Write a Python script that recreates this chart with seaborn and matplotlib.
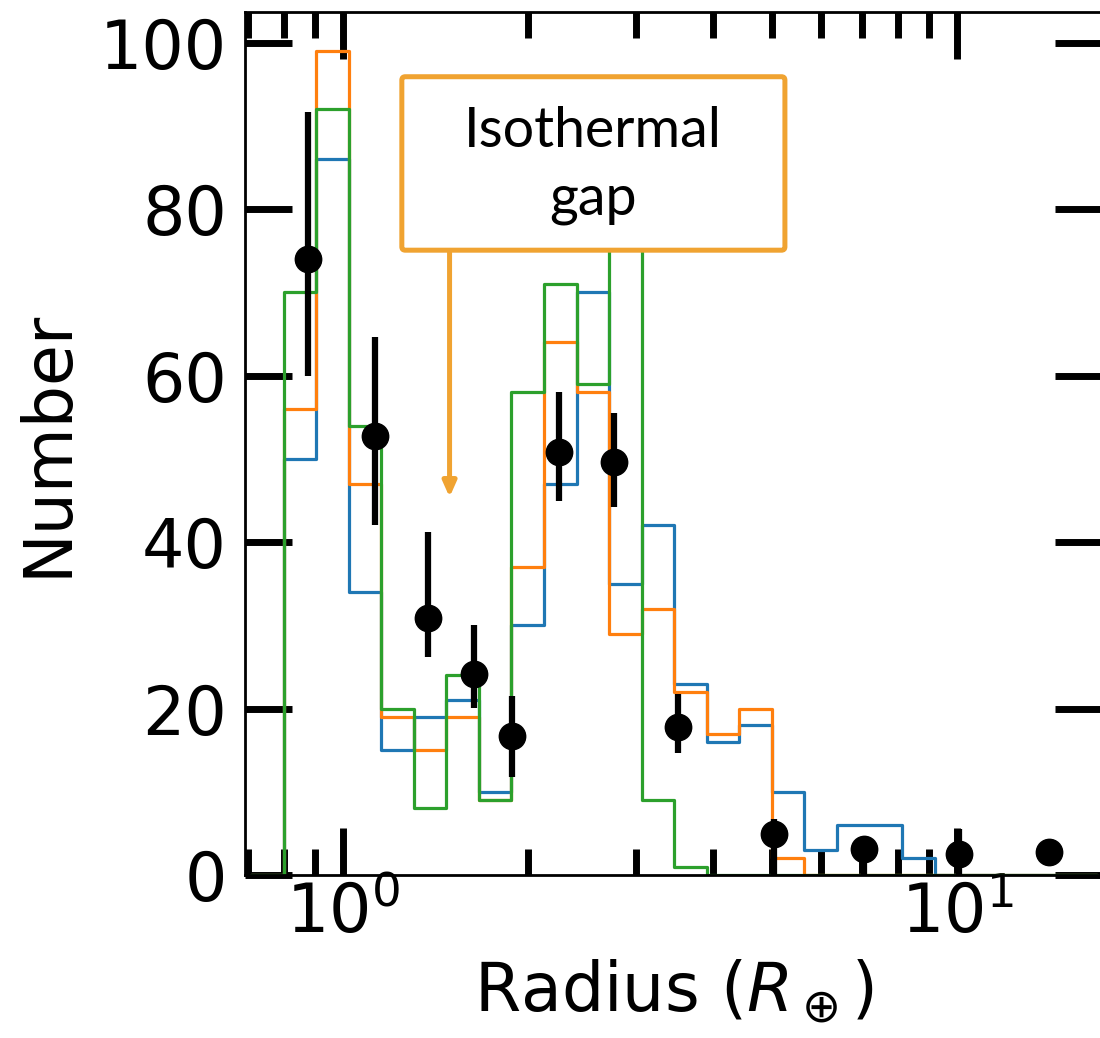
import numpy as np
import pandas as pd
import matplotlib
matplotlib.use("Agg")
import matplotlib.pyplot as plt
import seaborn as sns
from matplotlib.patches import FancyBboxPatch
from matplotlib.ticker import LogLocator, NullFormatter

# ---------------- data ----------------
bin_start = 0.708        # first bin edge (R_earth); first bin is empty
bin_dex = 0.053          # log10 bin width
n_bins = 26

counts_blue = [0, 50, 86, 34, 15, 19, 21, 10, 30, 47, 70, 35, 42, 23, 16, 18, 10, 3, 6, 6, 2, 0, 0, 0, 0, 0]
counts_orange = [0, 56, 99, 47, 19, 15, 19, 9, 37, 64, 58, 29, 32, 22, 17, 20, 2, 0, 0, 0, 0, 0, 0, 0, 0, 0]
counts_green = [0, 70, 92, 54, 20, 8, 24, 9, 58, 71, 59, 88, 9, 1, 0, 0, 0, 0, 0, 0, 0, 0, 0, 0, 0, 0]

obs_radius = [0.877, 1.128, 1.372, 1.631, 1.882, 2.25, 2.76, 3.51, 5.02, 7.05, 10.07, 14.1]
obs_number = [74.0, 52.7, 30.9, 24.2, 16.7, 50.8, 49.6, 17.8, 4.9, 3.1, 2.5, 2.8]
obs_err_hi = [17.7, 11.9, 10.3, 5.8, 4.8, 7.2, 5.9, 4.0, 1.8, 1.0, 3.0, 0.0]
obs_err_lo = [14.0, 10.7, 4.7, 4.1, 4.9, 5.9, 5.4, 3.1, 4.9, 3.1, 2.5, 0.0]

y_ticks = [0, 20, 40, 60, 80, 100]
annot_text = "Isothermal\ngap"

# ---------------- setup ----------------
sns.set_style("ticks")
plt.rcParams["font.family"] = ["DejaVu Sans"]
plt.rcParams["mathtext.fontset"] = "dejavusans"
plt.rcParams["text.color"] = "black"
plt.rcParams["axes.labelcolor"] = "black"
plt.rcParams["xtick.color"] = "black"
plt.rcParams["ytick.color"] = "black"
plt.rcParams["xtick.labelcolor"] = "black"
plt.rcParams["ytick.labelcolor"] = "black"

log_edges = np.log10(bin_start) + bin_dex * np.arange(n_bins + 1)
log_centers = 0.5 * (log_edges[:-1] + log_edges[1:])
centers = 10 ** log_centers

df = pd.DataFrame({
    "radius": np.tile(centers, 3),
    "count": counts_blue + counts_orange + counts_green,
    "model": ["blue"] * n_bins + ["orange"] * n_bins + ["green"] * n_bins,
})

fig = plt.figure(figsize=(11.0, 10.38), dpi=100)
ax = fig.add_axes([245 / 1100, 1 - 875 / 1038, (1102 - 245) / 1100, (875 - 12) / 1038])
ax.set_xscale("log")

palette = {"blue": "#1f77b4", "orange": "#ff7f0e", "green": "#2ca02c"}
for model in ["blue", "orange", "green"]:
    sub = df[df["model"] == model]
    sns.histplot(data=sub, x="radius", weights="count", bins=list(log_edges),
                 element="step", fill=False, color=palette[model],
                 linewidth=2.3, ax=ax)

ax.errorbar(obs_radius, obs_number, yerr=[obs_err_lo, obs_err_hi],
            fmt="o", color="black", ms=19, elinewidth=4.5, capsize=0, zorder=5)

ax.set_xlim(0.692, 17.2)
ax.set_ylim(0, 103.7)
ax.set_yticks(y_ticks)

ax.xaxis.set_major_locator(LogLocator(base=10))
ax.xaxis.set_minor_locator(LogLocator(base=10, subs=np.arange(2, 10)))
ax.xaxis.set_minor_formatter(NullFormatter())

ax.tick_params(axis="both", which="both", direction="in", top=True, right=True,
               labelsize=48, width=5, color="black", labelcolor="black")
ax.tick_params(axis="both", which="major", length=34)
ax.tick_params(axis="both", which="minor", length=19)
ax.tick_params(axis="y", which="major", pad=13)
ax.tick_params(axis="x", which="major", pad=4)
for s in ax.spines.values():
    s.set_linewidth(2.0)
    s.set_color("black")

ax.set_xlabel(r"Radius ($R_\oplus$)", fontsize=48, labelpad=8, color="black")
ax.set_ylabel("Number", fontsize=48, labelpad=14, color="black")

# annotation box with arrow
box_col = "#F0A331"
box = FancyBboxPatch((0.183, 0.724), 0.447, 0.201, boxstyle="round,pad=0,rounding_size=0.004",
                     transform=ax.transAxes, facecolor="white", edgecolor=box_col,
                     linewidth=3.6, zorder=6)
ax.add_patch(box)
ax.text(0.4065, 0.822, annot_text, transform=ax.transAxes, ha="center", va="center",
        fontsize=40, family=["Lato", "DejaVu Sans"], linespacing=1.4, color="black", zorder=7)
ax.annotate("", xy=(1.49, 45.4), xytext=(1.49, 75.0),
            arrowprops=dict(arrowstyle="-|>,head_length=0.9,head_width=0.4",
                            color=box_col, lw=3.6, shrinkA=0, shrinkB=0),
            zorder=5.5)

fig.savefig("out.png", dpi=100)
